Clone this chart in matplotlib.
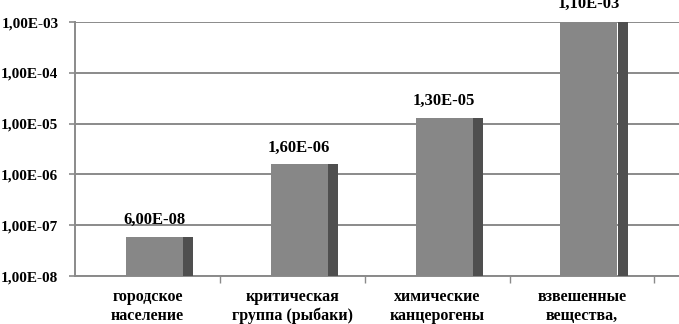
import numpy as np
import matplotlib
matplotlib.use("Agg")
import matplotlib.pyplot as plt
from matplotlib.ticker import FixedLocator, FixedFormatter, NullFormatter

# данные
categories = ["городское\nнаселение", "критическая\nгруппа (рыбаки)",
              "химические\nканцерогены", "взвешенные\nвещества,"]
values = [6.0e-8, 1.6e-6, 1.3e-5, 1.1e-3]
value_labels = ["6,00E-08", "1,60E-06", "1,30E-05", "1,10E-03"]
ytick_values = [1e-8, 1e-7, 1e-6, 1e-5, 1e-4, 1e-3]
ytick_labels = ["1,00E-08", "1,00E-07", "1,00E-06", "1,00E-05", "1,00E-04", "1,00E-03"]

plt.rcParams["font.family"] = ["Liberation Serif", "DejaVu Serif"]
plt.rcParams["font.weight"] = "bold"

fig = plt.figure(figsize=(6.79, 3.24), dpi=100)
ax = fig.add_axes([0.1105, 0.148, 0.8895, 0.784])

ax.set_yscale("log")
ymin, ymax = ytick_values[0], ytick_values[-1]
ax.set_ylim(ymin, ymax)
ax.set_xlim(-0.5, 3.67)

x = np.arange(len(categories))
heights = [v - ymin for v in values]

# передняя грань и тёмная боковая грань
ax.bar(x + 0.048, heights, width=0.393, bottom=ymin, color="#878787", zorder=3)
ax.bar(x + 0.28, heights, width=0.069, bottom=ymin, color="#4f4f4f", zorder=3)

for xi, v, lab in zip(x, values, value_labels):
    ax.annotate(lab, (xi + 0.048, v), xytext=(0, 9), textcoords="offset points",
                ha="center", va="baseline", fontsize=12, fontweight="bold",
                annotation_clip=False)

# сетка
ax.yaxis.set_major_locator(FixedLocator(ytick_values))
ax.yaxis.set_major_formatter(FixedFormatter(ytick_labels))
ax.yaxis.set_minor_locator(FixedLocator([]))
ax.grid(axis="y", color="#8a8a8a", linewidth=1.4, zorder=0)
ax.tick_params(axis="y", which="major", length=4, width=1.2, color="#8a8a8a",
               labelsize=11, pad=8)

ax.xaxis.set_major_locator(FixedLocator([0.5, 1.5, 2.5, 3.5]))
ax.xaxis.set_major_formatter(NullFormatter())
ax.xaxis.set_minor_locator(FixedLocator(list(x)))
ax.xaxis.set_minor_formatter(FixedFormatter(categories))
ax.tick_params(axis="x", which="major", length=5, width=1, color="#8a8a8a")
ax.tick_params(axis="x", which="minor", length=0, labelsize=11.5, pad=9)
for t in ax.xaxis.get_minorticklabels():
    t.set_linespacing(1.25)

for s in ["top", "right"]:
    ax.spines[s].set_visible(False)
ax.spines["left"].set_color("#8a8a8a")
ax.spines["left"].set_linewidth(1.4)
ax.spines["bottom"].set_color("#8a8a8a")
ax.spines["bottom"].set_linewidth(1.4)

fig.savefig("out.png", dpi=100)
